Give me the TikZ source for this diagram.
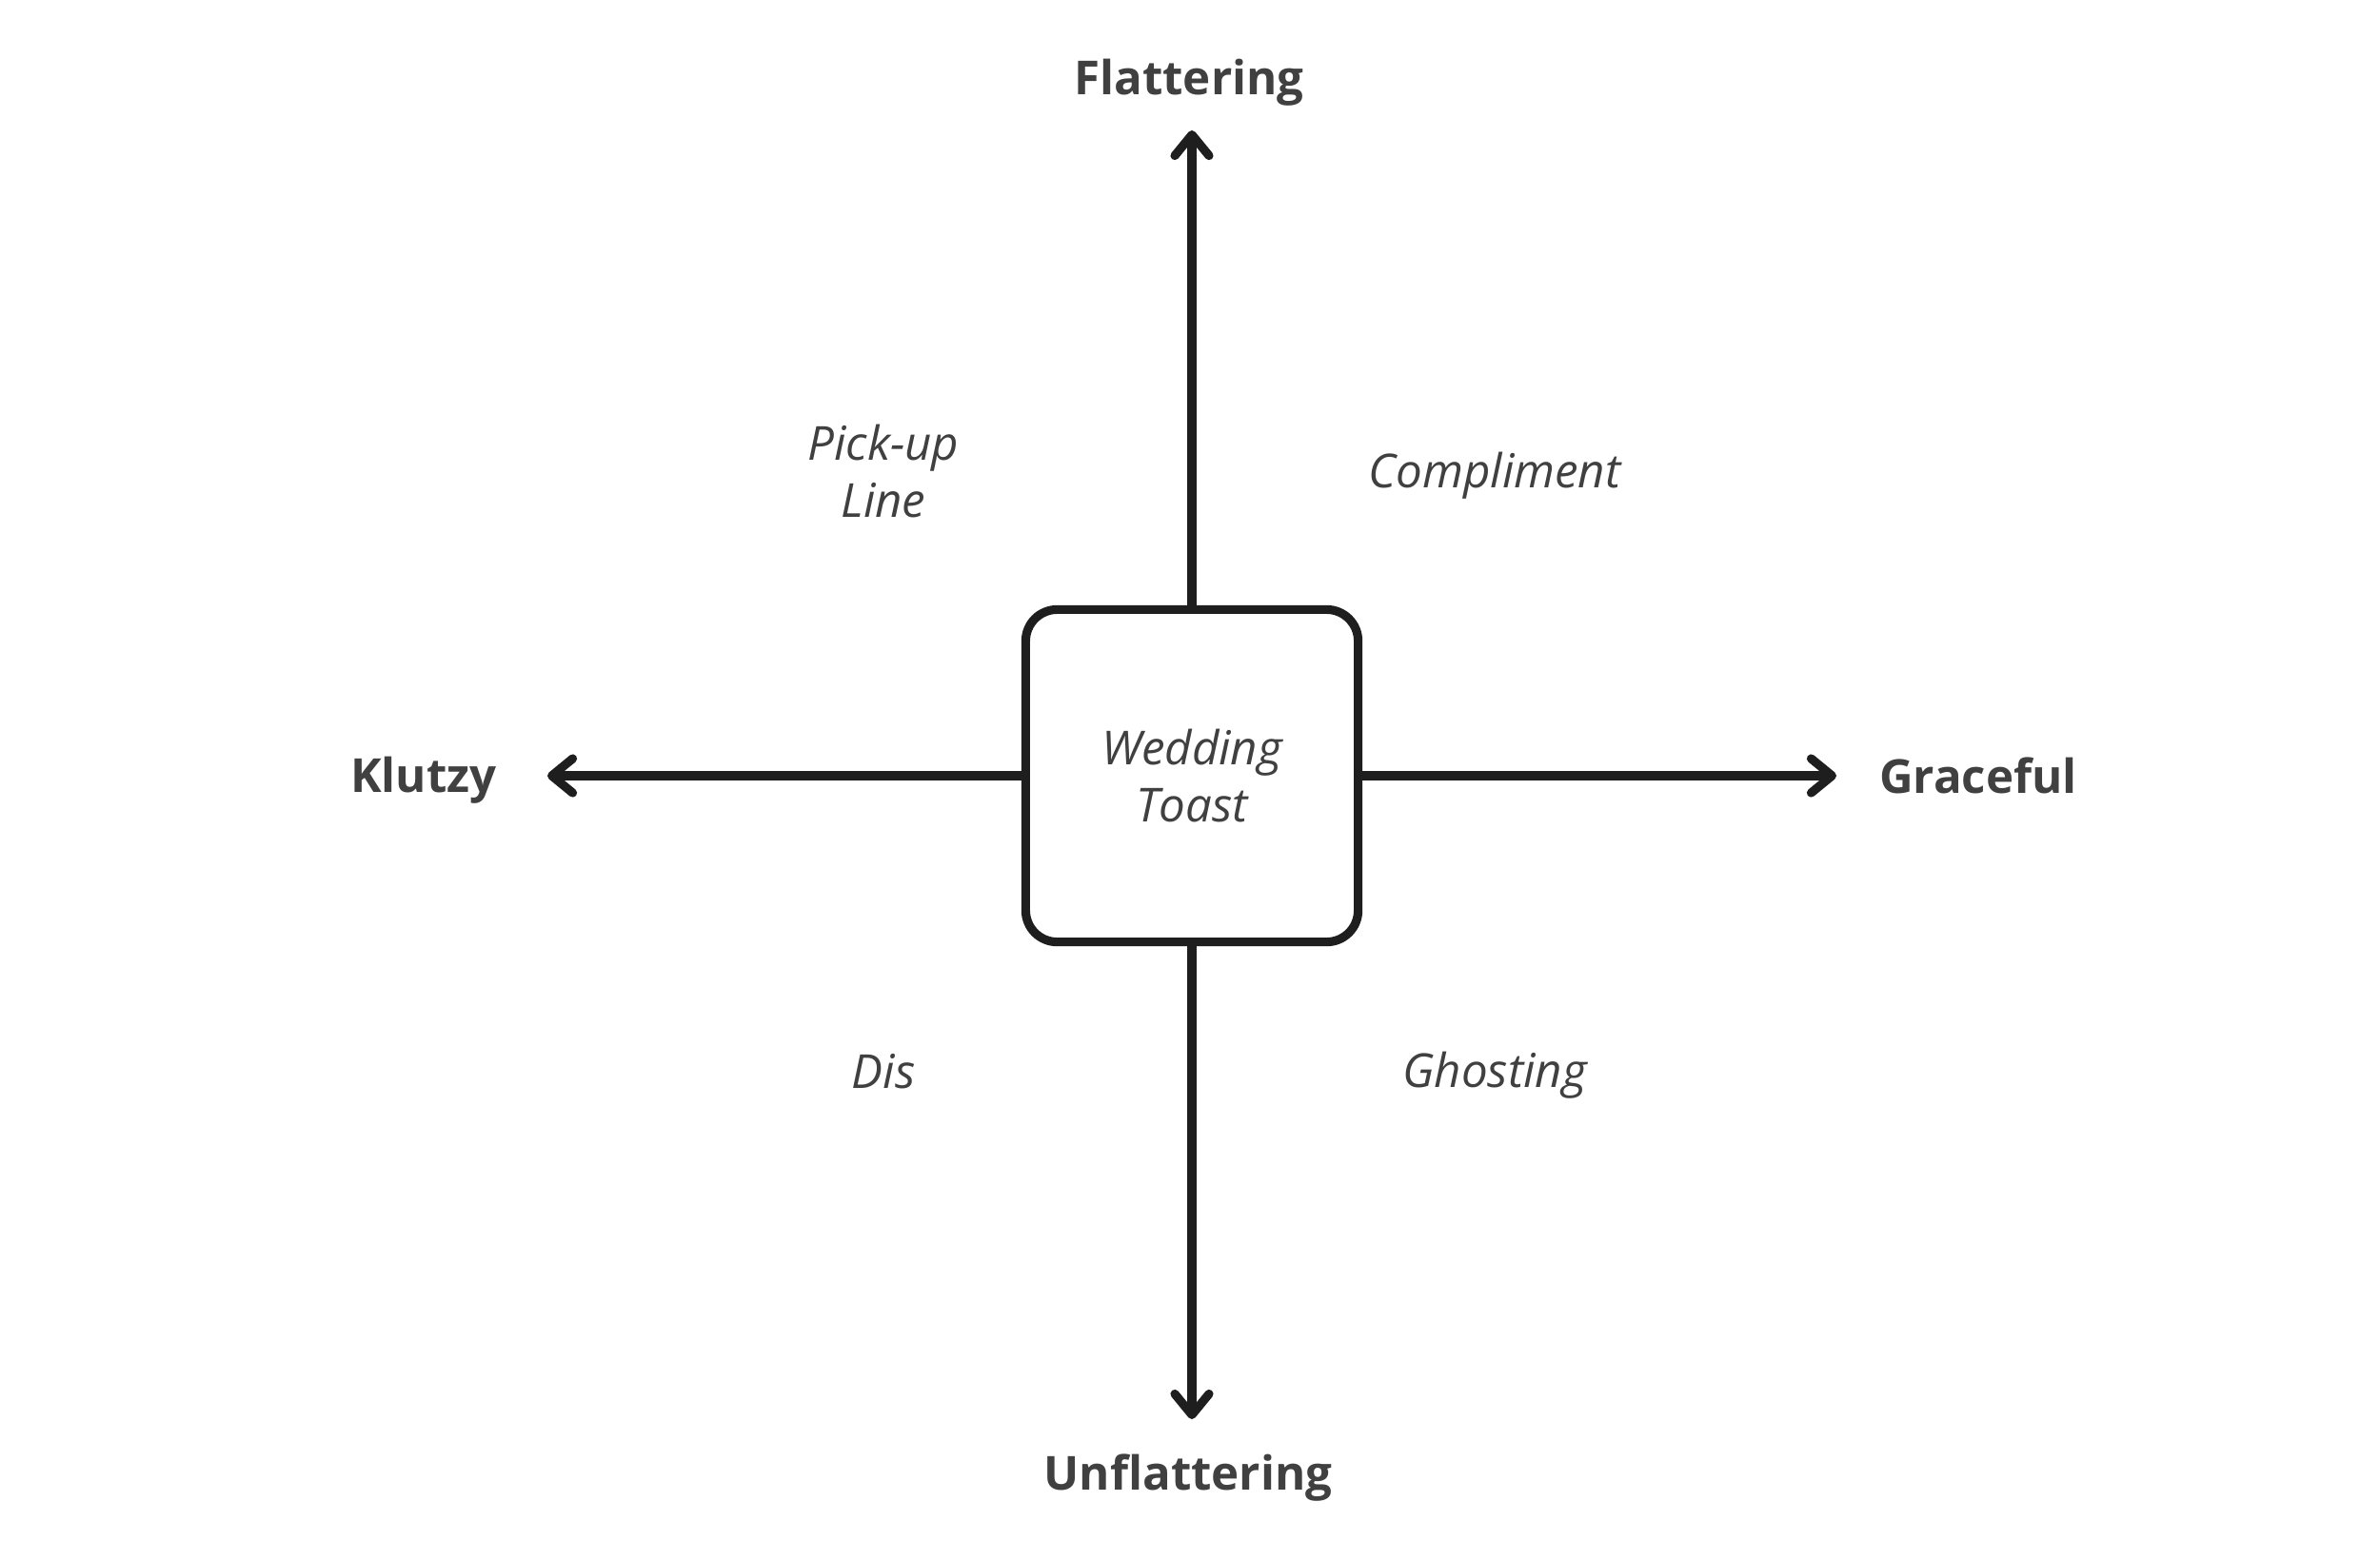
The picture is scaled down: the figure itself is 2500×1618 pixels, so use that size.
\documentclass[tikz,border=0pt]{standalone}
\usepackage{fontspec}
\setmainfont{Open Sans}
\usepackage{xcolor}
\usepackage{tikz}
\usetikzlibrary{arrows.meta,positioning}
\definecolor{ink}{HTML}{1E1E1E}
\definecolor{label}{HTML}{404040}

\tikzset{
  axis/.style={draw=ink,line width=2.6pt,
    -{Straight Barb[length=2.2mm,width=3.6mm,round]}},
  pole/.style={text=label,font=\fontsize{14}{17}\selectfont\bfseries},
  kind/.style={text=label,align=center,font=\fontsize{14}{17}\selectfont\itshape},
}

\begin{document}
\begin{tikzpicture}[x=0.01cm,y=-0.01cm]
  \useasboundingbox (0,0) rectangle (2500,1618);
  \node[kind,draw=ink,line width=2.6pt,rounded corners=0.33cm,
        minimum width=3.49cm,minimum height=3.49cm] (toast) at (1252,815)
    {Wedding\\Toast};
  \coordinate (up) at (1252,137);
  \coordinate (down) at (1252,1491);
  \coordinate (left) at (575,815);
  \coordinate (right) at (1929,815);
  \draw[axis] (toast.north) -- (up);
  \draw[axis] (toast.south) -- (down);
  \draw[axis] (toast.west) -- (left);
  \draw[axis] (toast.east) -- (right);
  \node[pole] (flat) at (1249,87) {Flattering};
  \node[pole] (unflat) at (1248,1553) {Unflattering};
  \node[pole] (klutzy) at (445,820) {Klutzy};
  \node[pole] (graceful) at (2078,815) {Graceful};
  \node[kind] (pickup) at (928,495) {Pick-up\\Line};
  \node[kind] (compliment) at (1570,500) {Compliment};
  \node[kind] (dis) at (928,1126) {Dis};
  \node[kind] (ghosting) at (1570,1130) {Ghosting};
\end{tikzpicture}
\end{document}
